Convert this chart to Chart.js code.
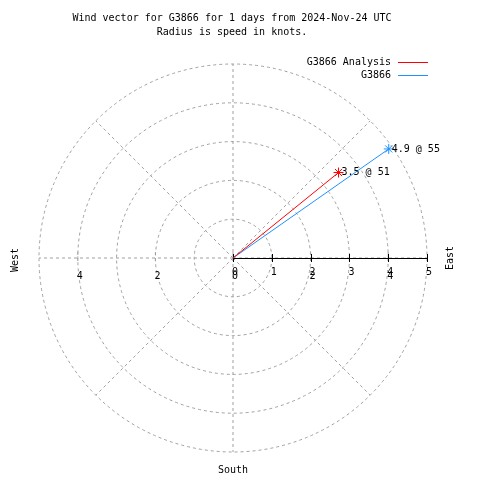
<!DOCTYPE html>
<html>
<head>
<meta charset="utf-8">
<script src="https://cdn.jsdelivr.net/npm/chart.js@4/dist/chart.umd.min.js"></script>
<style>
  body { margin: 0; background: #fff; }
</style>
</head>
<body>
<canvas id="wind" width="480" height="480"></canvas>
<script>
// wind vectors: speed in knots, direction in compass degrees
const seriesNames = ["G3866 Analysis", "G3866"];
const seriesColors = ["#ff0000", "#1e90ff"];
const speeds = [3.5, 4.9];
const directions = [51, 55];

const titleLines = [
  "Wind vector for G3866 for 1 days from 2024-Nov-24 UTC",
  "Radius is speed in knots."
];
const rings = [1, 2, 3, 4, 5];
const spokes = [0, 45, 90, 135, 180, 225, 270, 315];
const eastTicks = [0, 1, 2, 3, 4, 5];
const crossTicks = [-4, -2, 0, 2, 4];

const FONT = "10px 'DejaVu Sans Mono', monospace";
const GRID = "#a0a0a0";

function toXY(speed, dir) {
  const a = dir * Math.PI / 180;
  return { x: speed * Math.sin(a), y: speed * Math.cos(a) };
}

const datasets = seriesNames.map((name, i) => ({
  label: name,
  data: [{ x: 0, y: 0 }, toXY(speeds[i], directions[i])],
  showLine: true,
  borderColor: seriesColors[i],
  backgroundColor: seriesColors[i],
  borderWidth: 1,
  pointStyle: "star",
  pointRadius: [0, 5],
  pointBorderWidth: 1,
  pointHoverRadius: [0, 5]
}));

const windPlot = {
  id: "windPlot",
  beforeDatasetsDraw(chart) {
    const ctx = chart.ctx;
    const sx = chart.scales.x, sy = chart.scales.y;
    const cx = sx.getPixelForValue(0), cy = sy.getPixelForValue(0);
    const px = sx.getPixelForValue(1) - cx;
    const outer = rings[rings.length - 1];
    ctx.save();

    // rings and spokes
    ctx.strokeStyle = GRID;
    ctx.lineWidth = 1;
    ctx.setLineDash([3, 3]);
    for (const r of rings) {
      ctx.beginPath();
      ctx.arc(cx, cy, r * px, 0, Math.PI * 2);
      ctx.stroke();
    }
    for (const s of spokes) {
      const p = toXY(outer, s);
      ctx.beginPath();
      ctx.moveTo(cx, cy);
      ctx.lineTo(sx.getPixelForValue(p.x), sy.getPixelForValue(p.y));
      ctx.stroke();
    }
    // dashed ticks of the second axis
    for (const t of crossTicks) {
      const x = sx.getPixelForValue(t);
      ctx.beginPath();
      ctx.moveTo(x, cy - 6);
      ctx.lineTo(x, cy + 6);
      ctx.stroke();
    }
    ctx.setLineDash([]);

    // solid radius axis
    ctx.strokeStyle = "#000";
    ctx.beginPath();
    ctx.moveTo(cx, cy + 0.5);
    ctx.lineTo(sx.getPixelForValue(outer), cy + 0.5);
    ctx.stroke();
    for (const t of eastTicks) {
      const x = Math.round(sx.getPixelForValue(t)) + 0.5;
      ctx.beginPath();
      ctx.moveTo(x, cy - 4);
      ctx.lineTo(x, cy + 4);
      ctx.stroke();
    }

    // tick labels
    ctx.fillStyle = "#000";
    ctx.font = FONT;
    ctx.textAlign = "center";
    ctx.textBaseline = "middle";
    for (const t of eastTicks) {
      ctx.fillText(String(t), sx.getPixelForValue(t) + 2, cy + 14);
    }
    for (const t of crossTicks) {
      ctx.fillText(String(Math.abs(t)), sx.getPixelForValue(t) + 2, cy + 18);
    }
    ctx.restore();
  },
  afterDatasetsDraw(chart) {
    const ctx = chart.ctx;
    ctx.save();
    ctx.fillStyle = "#000";
    ctx.font = FONT;
    ctx.textAlign = "left";
    ctx.textBaseline = "middle";
    chart.data.datasets.forEach((ds, i) => {
      const pt = chart.getDatasetMeta(i).data[1];
      ctx.fillText(speeds[i].toFixed(1) + " @ " + directions[i], pt.x + 3, pt.y);
    });

    // title
    ctx.textAlign = "center";
    ctx.fillText(titleLines[0], 232, 18);
    ctx.fillText(titleLines[1], 232, 32);

    // legend
    ctx.textAlign = "right";
    seriesNames.forEach((name, i) => {
      const y = 62 + i * 13;
      ctx.fillStyle = "#000";
      ctx.fillText(name, 391, y);
      ctx.strokeStyle = seriesColors[i];
      ctx.lineWidth = 1;
      ctx.beginPath();
      ctx.moveTo(398, y + 0.5);
      ctx.lineTo(428, y + 0.5);
      ctx.stroke();
    });

    // compass labels
    ctx.fillStyle = "#000";
    ctx.textAlign = "center";
    ctx.fillText("South", 233, 470);
    [["West", 15, 260], ["East", 450, 258]].forEach(([txt, x, y]) => {
      ctx.save();
      ctx.translate(x, y);
      ctx.rotate(-Math.PI / 2);
      ctx.fillText(txt, 0, 0);
      ctx.restore();
    });
    ctx.restore();
  }
};

new Chart(document.getElementById("wind"), {
  type: "scatter",
  data: { datasets: datasets },
  options: {
    responsive: false,
    animation: false,
    layout: { padding: { left: 39, right: 53, top: 64, bottom: 28 } },
    scales: {
      x: { type: "linear", min: -5, max: 5, display: false },
      y: { type: "linear", min: -5, max: 5, display: false }
    },
    plugins: {
      legend: { display: false },
      title: { display: false },
      tooltip: { enabled: false }
    }
  },
  plugins: [windPlot]
});
</script>
</body>
</html>
